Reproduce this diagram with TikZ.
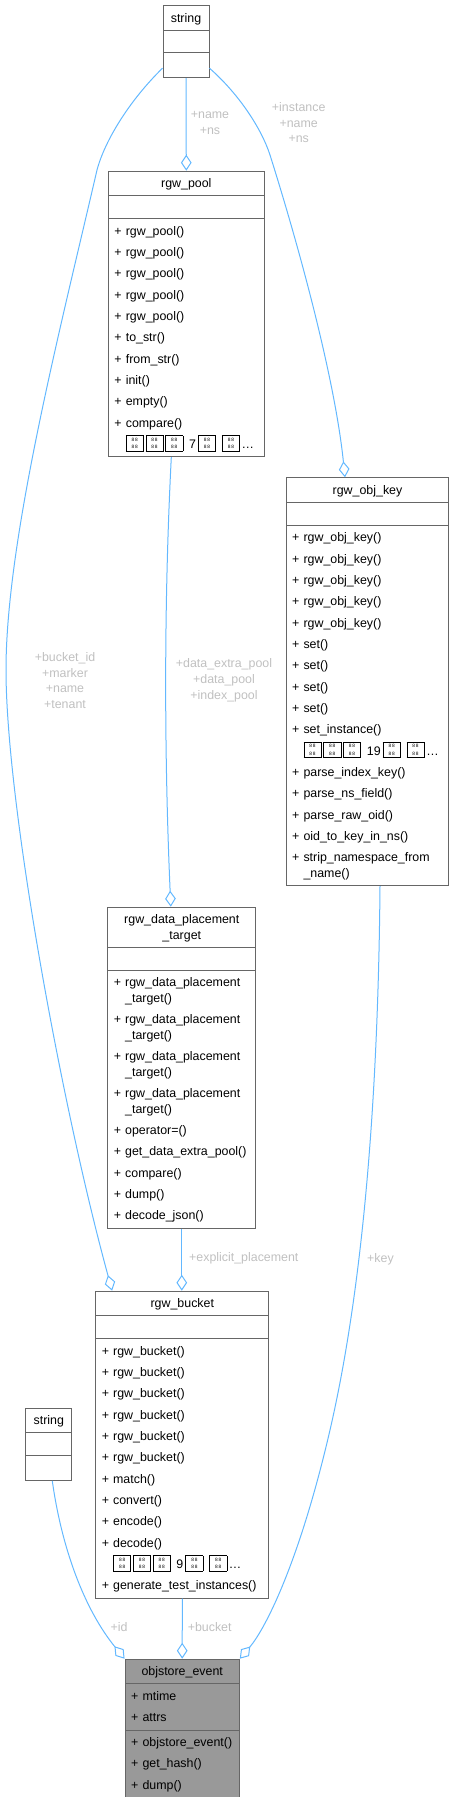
\documentclass[tikz,border=0pt]{standalone}
\usepackage{fontspec}
\setmainfont{Liberation Sans}
\usetikzlibrary{shapes.multipart,arrows.meta,calc}
\definecolor{clsborder}{HTML}{666666}
\definecolor{clsfocus}{HTML}{999999}
\definecolor{edgeblue}{HTML}{63B8FF}
\definecolor{lblgray}{HTML}{C0C0C0}
\setlength{\parindent}{0pt}
\newcommand{\tofu}{{\setlength{\fboxsep}{0.5pt}\setlength{\fboxrule}{0.5pt}%
  \fbox{\rule[-1pt]{0pt}{10pt}\makebox[11.5pt]{\fontsize{3.6}{4.8}\selectfont\shortstack{8\,8\\8\,8}}}}\kern1.3pt}
\newcommand{\emptyrow}{\rule[-4pt]{0pt}{14.5pt}}
\newcommand{\wrapnl}{\\[-4.3pt]}
\newcommand{\ctr}[1]{\hbox to \hsize{\hss#1\hss}}

\begin{document}
\begin{tikzpicture}[
  x=0.75pt, y=-0.75pt,
  cls/.style={rectangle split, rectangle split parts=3, anchor=north,
              draw=clsborder, line width=0.75pt, fill=white, align=left,
              inner xsep=4.6pt, inner ysep=0.9pt,
              font=\fontsize{9.3}{16}\selectfont},
  lbl/.style={align=center, inner sep=0pt, text=lblgray,
              font=\fontsize{9.3}{11.7}\selectfont},
  conn/.style={draw=edgeblue, line width=0.75pt,
               -{Diamond[open, length=12pt, width=8pt]}}
]
  \useasboundingbox (0,0) rectangle (454,1797);

  \node[cls, text width=25.3pt] (strtop) at (186,5)
    {\strut\ctr{string}\nodepart{two}\emptyrow\nodepart{three}\strut};

  \node[cls, text width=107.8pt] (rgwpool) at (186.3,170.7)
    {\strut\ctr{rgw\_pool}
     \nodepart{two}\emptyrow
     \nodepart{three}\strut+~rgw\_pool()\\+~rgw\_pool()\\+~rgw\_pool()\\
       +~rgw\_pool()\\+~rgw\_pool()\\+~to\_str()\\+~from\_str()\\+~init()\\
       +~empty()\\+~compare()\\
       \hphantom{+~}\tofu\tofu\tofu\ 7\kern1.5pt\tofu\ \tofu…\strut};

  \node[cls, text width=113pt] (rgwobjkey) at (367.5,477.3)
    {\strut\ctr{rgw\_obj\_key}
     \nodepart{two}\emptyrow
     \nodepart{three}\strut+~rgw\_obj\_key()\\+~rgw\_obj\_key()\\
       +~rgw\_obj\_key()\\+~rgw\_obj\_key()\\+~rgw\_obj\_key()\\
       +~set()\\+~set()\\+~set()\\+~set()\\+~set\_instance()\\
       \hphantom{+~}\tofu\tofu\tofu\ 19\kern1.5pt\tofu\ \tofu…\\
       +~parse\_index\_key()\\+~parse\_ns\_field()\\+~parse\_raw\_oid()\\
       +~oid\_to\_key\_in\_ns()\\
       +~strip\_namespace\_from\wrapnl\hphantom{+~}\_name()\strut};

  \node[cls, text width=102pt] (rgwtarget) at (181.8,906.7)
    {\strut\ctr{rgw\_data\_placement}\wrapnl\strut\ctr{\_target}
     \nodepart{two}\emptyrow
     \nodepart{three}\strut+~rgw\_data\_placement\wrapnl\hphantom{+~}\_target()\\
       +~rgw\_data\_placement\wrapnl\hphantom{+~}\_target()\\
       +~rgw\_data\_placement\wrapnl\hphantom{+~}\_target()\\
       +~rgw\_data\_placement\wrapnl\hphantom{+~}\_target()\\
       +~operator=()\\+~get\_data\_extra\_pool()\\+~compare()\\
       +~dump()\\+~decode\_json()\strut};

  \node[cls, text width=120.8pt] (rgwbucket) at (182.3,1290.7)
    {\strut\ctr{rgw\_bucket}
     \nodepart{two}\emptyrow
     \nodepart{three}\strut+~rgw\_bucket()\\+~rgw\_bucket()\\+~rgw\_bucket()\\
       +~rgw\_bucket()\\+~rgw\_bucket()\\+~rgw\_bucket()\\+~match()\\
       +~convert()\\+~encode()\\+~decode()\\
       \hphantom{+~}\tofu\tofu\tofu\ 9\kern1.5pt\tofu\ \tofu…\\
       +~generate\_test\_instances()\strut};

  \node[cls, text width=25.1pt] (strsmall) at (48.8,1407.7)
    {\strut\ctr{string}\nodepart{two}\emptyrow\nodepart{three}\strut};

  \node[cls, text width=76.5pt, fill=clsfocus] (event) at (182.2,1658.7)
    {\strut\ctr{objstore\_event}
     \nodepart{two}\strut+~mtime\\+~attrs\strut
     \nodepart{three}\strut+~objstore\_event()\\+~get\_hash()\\+~dump()\strut};

  % member links
  \draw[conn] ($(strtop.south west)+(0,-10)$) .. controls (130,100) and (105,140) .. (97,170)
    .. controls (60,330) and (6,540) .. (6,670)
    .. controls (6,800) and (60,1100) .. ($(rgwbucket.north west)+(17,0)$);
  \draw[conn] (strtop.south) -- (rgwpool.north);
  \draw[conn] ($(strtop.south east)+(0,-10)$) .. controls (240,95) and (262,130) .. (270,155)
    .. controls (300,250) and (335,380) .. ($(rgwobjkey.north)+(-22.5,0)$);
  \draw[conn] ($(rgwpool.south)+(-15,0)$) .. controls (164,600) and (164,750)
    .. ($(rgwtarget.north)+(-11,0)$);
  \draw[conn] (rgwtarget.south) -- (rgwtarget.south |- rgwbucket.north);
  \draw[conn] ($(rgwobjkey.south)+(12.5,0)$) .. controls (378,1120) and (360,1300) .. (330,1430)
    .. controls (300,1560) and (266,1628) .. (event.north east);
  \draw[conn] ($(strsmall.south)+(3.5,0)$) .. controls (62,1550) and (85,1610) .. (event.north west);
  \draw[conn] (rgwbucket.south) -- (event.north);

  \node[lbl] (lname) at (210,123) {+name\\+ns};
  \node[lbl] (linst) at (298.7,122.7) {+instance\\+name\\+ns};
  \node[lbl] (lbkt) at (65,680.5) {+bucket\_id\\+marker\\+name\\+tenant};
  \node[lbl] (lpools) at (224,680.3) {+data\_extra\_pool\\+data\_pool\\+index\_pool};
  \node[lbl] (lexpl) at (243.8,1258.5) {+explicit\_placement};
  \node[lbl] (lkey) at (380.5,1259) {+key};
  \node[lbl] (lid) at (119,1626.7) {+id};
  \node[lbl] (lbucket) at (209.7,1626.7) {+bucket};
\end{tikzpicture}
\end{document}
